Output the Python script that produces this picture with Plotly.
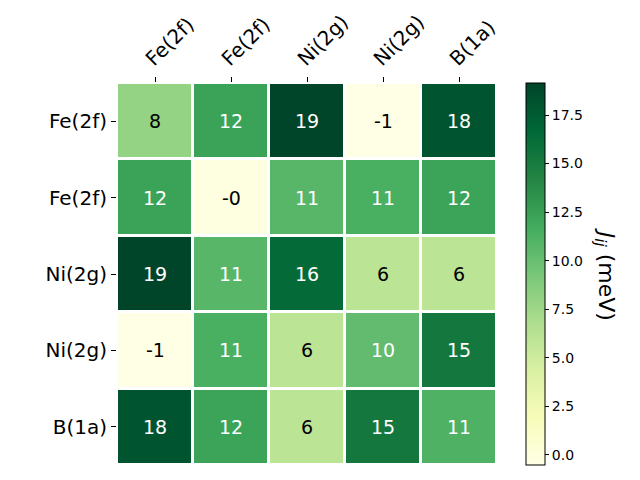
import plotly.graph_objects as go

# site labels and exchange couplings J_ij (meV)
sites = ['Fe(2f)', 'Fe(2f)', 'Ni(2g)', 'Ni(2g)', 'B(1a)']
J = [
    [8.0, 12.3, 19.15, -0.52, 18.0],
    [12.3, -0.3, 10.8, 11.4, 12.2],
    [19.15, 10.8, 16.4, 6.0, 6.0],
    [-0.52, 11.4, 6.0, 10.3, 15.3],
    [18.0, 12.2, 6.0, 15.3, 11.2],
]
cbar_ticks = [0.0, 2.5, 5.0, 7.5, 10.0, 12.5, 15.0, 17.5]

ylgn = ['#ffffe5', '#f7fcb9', '#d9f0a3', '#addd8e', '#78c679',
        '#41ab5d', '#238443', '#006837', '#004529']

idx = list(range(len(sites)))
zmin = min(min(r) for r in J)
zmax = max(max(r) for r in J)
thresh = (zmin + zmax) / 2

fig = go.Figure(go.Heatmap(
    z=J, x=idx, y=idx,
    colorscale=[[i / 8, c] for i, c in enumerate(ylgn)],
    zmin=zmin, zmax=zmax,
    xgap=3, ygap=3,
    colorbar=dict(
        x=1.076, xanchor='left', y=0.5, yanchor='middle',
        len=1, thickness=19, xpad=0, ypad=0,
        outlinewidth=1, outlinecolor='black',
        tickvals=cbar_ticks, ticktext=[f'{t:.1f}' for t in cbar_ticks],
        ticks='outside', ticklen=4, tickcolor='black',
        tickfont=dict(size=14, color='black'),
    ),
    hoverinfo='skip',
))

# cell values
for i, row in enumerate(J):
    for j, v in enumerate(row):
        fig.add_annotation(
            x=j, y=i, text=f'{v:.0f}', showarrow=False,
            font=dict(size=19, color='white' if v > thresh else 'black'),
        )

fig.add_annotation(
    xref='paper', yref='paper', x=1.285, y=0.5,
    xanchor='center', yanchor='middle',
    text='<i>J</i><sub><i>ij</i></sub> (meV)', textangle=90,
    showarrow=False, font=dict(size=22, color='black'),
)

fig.update_xaxes(
    side='top', tickvals=idx, ticktext=sites, tickangle=-45,
    ticks='outside', ticklen=5, tickcolor='black',
    tickfont=dict(size=20, color='black'),
    ticklabelshift=-8, ticklabelstandoff=-1,
    showgrid=False, zeroline=False, range=[-0.5, 4.5], automargin=False,
)
fig.update_yaxes(
    tickvals=idx, ticktext=sites, autorange='reversed',
    ticks='outside', ticklen=5, tickcolor='black',
    tickfont=dict(size=20, color='black'),
    showgrid=False, zeroline=False, automargin=False,
)

# page body adds an 8px offset, so the figure is 632x472
fig.update_layout(
    width=632, height=472,
    margin=dict(l=109, r=143, t=75, b=15),
    plot_bgcolor='white', paper_bgcolor='white',
    font=dict(family='DejaVu Sans'),
)

fig.write_html('out.html')
